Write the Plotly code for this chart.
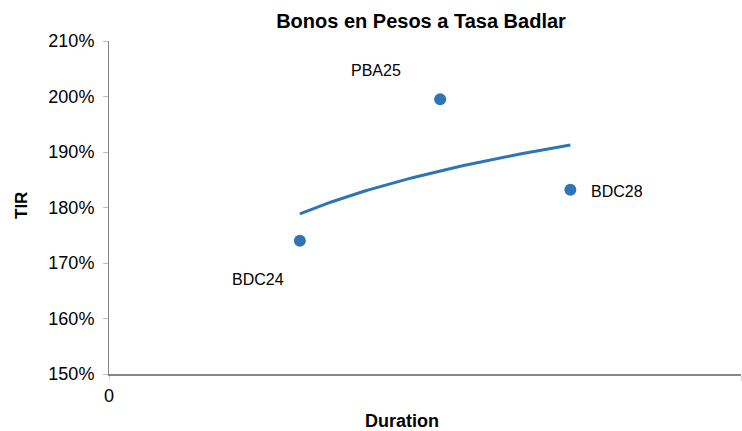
import numpy as np
import plotly.graph_objects as go

# Bonos en pesos a tasa Badlar: duration vs TIR
bonos = ["BDC24", "PBA25", "BDC28"]
duration = [0.302, 0.524, 0.730]
tir = [1.740, 1.995, 1.832]

y_ticks = [1.5, 1.6, 1.7, 1.8, 1.9, 2.0, 2.1]
x_ticks = [0, 1]

BLUE = "#2e75b6"
FONT = "Liberation Sans, Arial, sans-serif"

W, H = 742, 431
L, R, T, B = 109, 1, 41, 57
PW, PH = W - L - R, H - T - B

# logarithmic trendline (same as the spreadsheet's log fit)
b, a = np.polyfit(np.log(duration), tir, 1)
x_fit = np.linspace(min(duration), max(duration), 60)
y_fit = a + b * np.log(x_fit)

fig = go.Figure()

fig.add_trace(
    go.Scatter(
        x=x_fit,
        y=y_fit,
        mode="lines",
        line={"color": BLUE, "width": 3},
        hoverinfo="skip",
        showlegend=False,
    )
)

fig.add_trace(
    go.Scatter(
        x=duration,
        y=tir,
        mode="markers",
        marker={"color": BLUE, "size": 12},
        text=bonos,
        showlegend=False,
    )
)

# label offsets (pixels) next to each point
label_shift = {"BDC24": (-42, -39), "PBA25": (-64, 29), "BDC28": (47, -2)}
for name, x, y in zip(bonos, duration, tir):
    dx, dy = label_shift[name]
    fig.add_annotation(
        x=x,
        y=y,
        text=name,
        showarrow=False,
        xshift=dx,
        yshift=dy,
        font={"family": FONT, "size": 16, "color": "#000000"},
    )

# axis titles placed by hand, like the original (paper = plot area)
fig.add_annotation(
    x=(402 - L) / PW, y=(H - B - 421) / PH, xref="paper", yref="paper",
    xanchor="center", yanchor="middle", showarrow=False,
    text="<b>Duration</b>", font={"family": FONT, "size": 18, "color": "#000000"},
)
fig.add_annotation(
    x=(21 - L) / PW, y=(H - B - 206) / PH, xref="paper", yref="paper",
    xanchor="center", yanchor="middle", showarrow=False, textangle=-90,
    text="<b>TIR</b>", font={"family": FONT, "size": 17, "color": "#000000"},
)

fig.update_layout(
    width=W,
    height=H,
    margin={"l": L, "r": R, "t": T, "b": B},
    paper_bgcolor="white",
    plot_bgcolor="white",
    font={"family": FONT, "size": 16, "color": "#000000"},
    title={
        "text": "<b>Bonos en Pesos a Tasa Badlar</b>",
        "x": 421 / W,
        "xanchor": "center",
        "y": 1 - 21 / H,
        "yanchor": "middle",
        "font": {"family": FONT, "size": 20, "color": "#000000"},
    },
)

fig.update_xaxes(
    range=[0, 1],
    tickvals=x_ticks,
    ticktext=["0", "1"],
    automargin=False,
    showgrid=False,
    zeroline=False,
    showline=True,
    linecolor="#868686",
    linewidth=1.5,
    ticks="outside",
    ticklen=5,
    tickcolor="#d9d9d9",
    tickfont={"family": FONT, "size": 18},
)

fig.update_yaxes(
    range=[1.5, 2.1],
    tickvals=y_ticks,
    tickformat=".0%",
    automargin=False,
    showgrid=False,
    zeroline=False,
    showline=True,
    linecolor="#868686",
    linewidth=1,
    ticks="outside",
    ticklen=5,
    tickcolor="#bfbfbf",
    ticklabelstandoff=5,
    tickfont={"family": FONT, "size": 18},
)

# page default body margin would shift the figure by 8px
fig.write_html(
    "out.html",
    config={"displayModeBar": False},
    post_script="document.body.style.margin='0';",
)
